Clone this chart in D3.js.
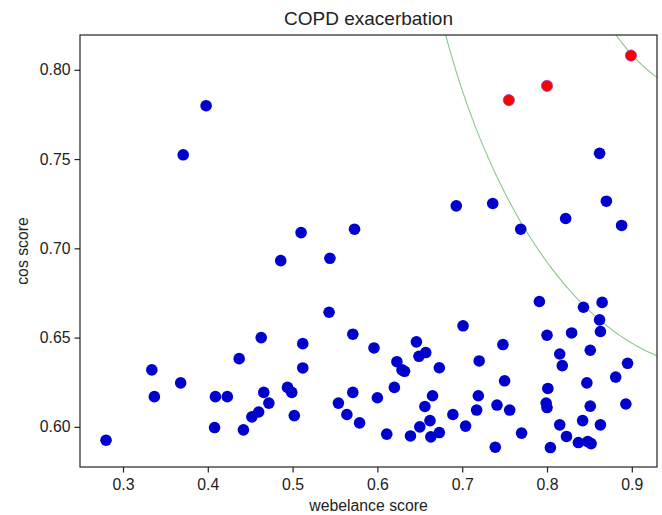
<!DOCTYPE html>
<html>
<head>
<meta charset="utf-8">
<script src="https://cdn.jsdelivr.net/npm/d3@7"></script>
<style>
  body { margin: 0; background: #fff; }
  svg { display: block; font-family: "Liberation Sans", Arial, sans-serif; }
</style>
</head>
<body>
<div id="chart"></div>
<script>
// webelance score (x) and cos score (y) for the ordinary points
const blueX = [
  0.280, 0.334, 0.337, 0.368, 0.409, 0.423, 0.408, 0.442, 0.437, 0.463,
  0.486, 0.544, 0.543, 0.512, 0.512, 0.466, 0.472, 0.460, 0.452, 0.494,
  0.499, 0.502, 0.571, 0.596, 0.571, 0.554, 0.564, 0.579, 0.600, 0.398,
  0.371, 0.510, 0.573, 0.862, 0.693, 0.736, 0.769, 0.822, 0.870, 0.888,
  0.791, 0.843, 0.865, 0.862, 0.863, 0.829, 0.800, 0.851, 0.815, 0.818,
  0.895, 0.881, 0.847, 0.801, 0.799, 0.800, 0.851, 0.893, 0.815, 0.842,
  0.863, 0.823, 0.837, 0.848, 0.852, 0.804, 0.770, 0.739, 0.756, 0.741,
  0.750, 0.748, 0.720, 0.701, 0.719, 0.717, 0.704, 0.689, 0.673, 0.646,
  0.649, 0.657, 0.623, 0.629, 0.632, 0.620, 0.665, 0.656, 0.662, 0.650,
  0.639, 0.663, 0.673, 0.611
];
const blueY = [
  0.5925, 0.6319, 0.6169, 0.6246, 0.6169, 0.6169, 0.5996, 0.5983, 0.6382, 0.6500,
  0.6931, 0.6944, 0.6642, 0.6466, 0.6330, 0.6193, 0.6133, 0.6083, 0.6056, 0.6221,
  0.6193, 0.6063, 0.6519, 0.6442, 0.6193, 0.6133, 0.6069, 0.6022, 0.6163, 0.7799,
  0.7524, 0.7088, 0.7107, 0.7532, 0.7238, 0.7251, 0.7107, 0.7167, 0.7264, 0.7128,
  0.6702, 0.6670, 0.6697, 0.6599, 0.6534, 0.6526, 0.6513, 0.6429, 0.6408, 0.6343,
  0.6356, 0.6279, 0.6246, 0.6215, 0.6133, 0.6108, 0.6116, 0.6128, 0.6011, 0.6035,
  0.6011, 0.5946, 0.5912, 0.5917, 0.5906, 0.5884, 0.5965, 0.5886, 0.6094, 0.6122,
  0.6258, 0.6461, 0.6369, 0.6566, 0.6174, 0.6094, 0.6004, 0.6069, 0.6331, 0.6476,
  0.6395, 0.6416, 0.6365, 0.6319, 0.6311, 0.6221, 0.6174, 0.6114, 0.6035, 0.6000,
  0.5949, 0.5944, 0.5968, 0.5959
];
// highlighted points
const redX = [0.899, 0.800, 0.755];
const redY = [0.808, 0.791, 0.783];

// reference arcs: circles around (1, 1)
const arcCenter = [1, 1];
const arcRadii = [0.367, 0.216];

const xTicks = [0.3, 0.4, 0.5, 0.6, 0.7, 0.8, 0.9];
const yTicks = [0.60, 0.65, 0.70, 0.75, 0.80];

const width = 662, height = 515;
const margin = { top: 35, right: 5, bottom: 48, left: 80 };
const innerW = width - margin.left - margin.right;
const innerH = height - margin.top - margin.bottom;

const svg = d3.select("#chart").append("svg")
  .attr("width", width)
  .attr("height", height);

const g = svg.append("g")
  .attr("transform", `translate(${margin.left},${margin.top})`);

const x = d3.scaleLinear().domain([0.2493, 0.9297]).range([0, innerW]);
const y = d3.scaleLinear().domain([0.5775, 0.8195]).range([innerH, 0]);

svg.append("defs").append("clipPath").attr("id", "plot-clip")
  .append("rect").attr("width", innerW).attr("height", innerH);

// arcs
const angles = d3.range(0, 361).map(a => a * Math.PI / 180);
const line = d3.line().x(d => x(d[0])).y(d => y(d[1]));
g.append("g").attr("clip-path", "url(#plot-clip)")
  .selectAll("path.arc")
  .data(arcRadii)
  .join("path")
  .attr("class", "arc")
  .attr("d", r => line(angles.map(a => [arcCenter[0] + r * Math.cos(a), arcCenter[1] + r * Math.sin(a)])))
  .attr("fill", "none")
  .attr("stroke", "#8cc68c")
  .attr("stroke-width", 1.1);

const blue = blueX.map((v, i) => ({ x: v, y: blueY[i] }));
const red = redX.map((v, i) => ({ x: v, y: redY[i] }));

g.append("g").selectAll("circle")
  .data(blue)
  .join("circle")
  .attr("cx", d => x(d.x))
  .attr("cy", d => y(d.y))
  .attr("r", 5.8)
  .attr("fill", "#0000cd");

g.append("g").selectAll("circle")
  .data(red)
  .join("circle")
  .attr("cx", d => x(d.x))
  .attr("cy", d => y(d.y))
  .attr("r", 5.6)
  .attr("fill", "#ff0000")
  .attr("stroke", "#8a3ad0")
  .attr("stroke-width", 0.7);

// axes
const xAxis = g.append("g")
  .attr("transform", `translate(0,${innerH})`)
  .call(d3.axisBottom(x).tickValues(xTicks).tickFormat(d3.format(".1f")).tickSize(5.5).tickPadding(6).tickSizeOuter(0));
const yAxis = g.append("g")
  .call(d3.axisLeft(y).tickValues(yTicks).tickFormat(d3.format(".2f")).tickSize(5.5).tickPadding(4).tickSizeOuter(0));

[xAxis, yAxis].forEach(ax => {
  ax.select(".domain").remove();
  ax.selectAll("line").attr("stroke", "#222").attr("stroke-width", 1.2);
  ax.selectAll("text").attr("font-size", 15.8).attr("fill", "#222")
    .attr("font-family", "'Liberation Sans', Arial, sans-serif");
});

// frame
g.append("rect")
  .attr("width", innerW)
  .attr("height", innerH)
  .attr("fill", "none")
  .attr("stroke", "#222")
  .attr("stroke-width", 1.2);

// labels
svg.append("text")
  .attr("x", margin.left + innerW / 2)
  .attr("y", 25)
  .attr("text-anchor", "middle")
  .attr("font-size", 19)
  .attr("fill", "#222")
  .text("COPD exacerbation");

svg.append("text")
  .attr("x", margin.left + innerW / 2)
  .attr("y", 511)
  .attr("text-anchor", "middle")
  .attr("font-size", 15.8)
  .attr("fill", "#222")
  .text("webelance score");

svg.append("text")
  .attr("transform", `translate(28,${margin.top + innerH / 2}) rotate(-90)`)
  .attr("text-anchor", "middle")
  .attr("font-size", 15.8)
  .attr("fill", "#222")
  .text("cos score");
</script>
</body>
</html>
